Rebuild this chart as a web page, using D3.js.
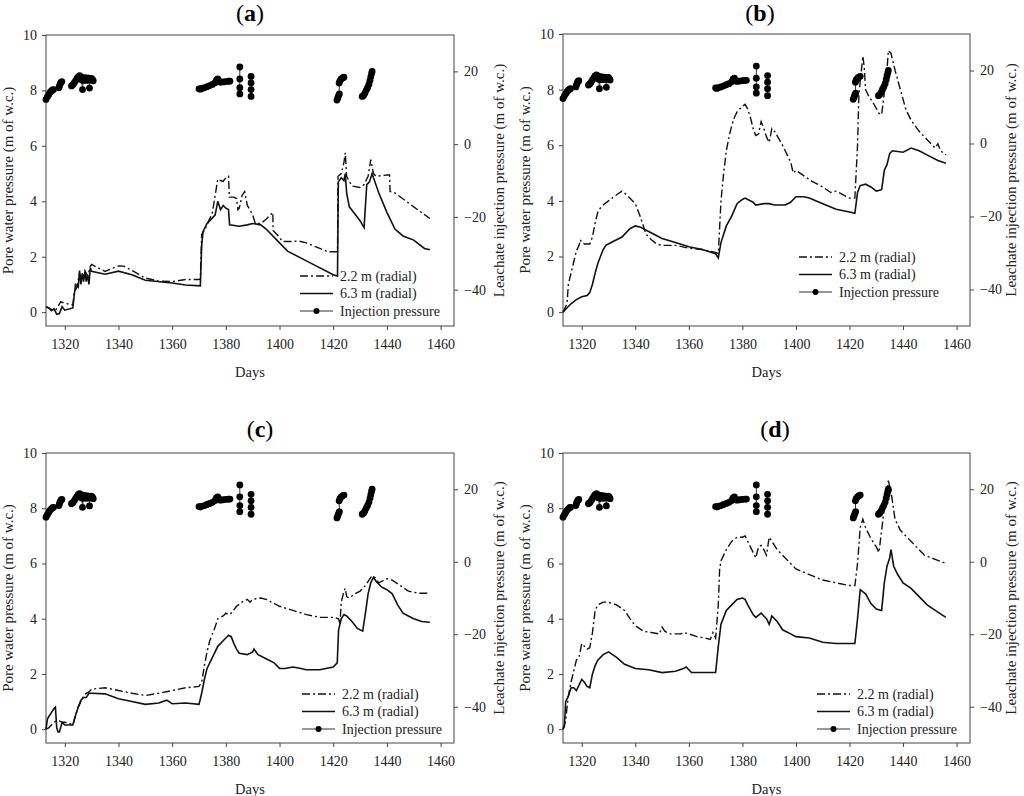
<!DOCTYPE html>
<html>
<head>
<meta charset="utf-8">
<script src="https://cdn.jsdelivr.net/npm/d3@7"></script>
<style>
  body { margin: 0; background: #fff; }
  svg { font-family: "Liberation Serif", "Times New Roman", serif; }
  .tick text { font-family: "Liberation Serif", "Times New Roman", serif; font-size: 14px; fill: #222; }
  .domain { display: none; }
  .tick line { stroke: #444; }
</style>
</head>
<body>
<div id="chart"></div>
<script>
// ---- data (day, value) ----
var dayTicks = [1320, 1340, 1360, 1380, 1400, 1420, 1440, 1460];
var pwpTicks = [0, 2, 4, 6, 8, 10];
var injTicks = [-40, -20, 0, 20];
var seriesNames = ["2.2 m (radial)", "6.3 m (radial)", "Injection pressure"];

// panel (a)
var a22 = [[1313,0.2],[1315,0.1],[1316.5,0.05],[1318.5,0.38],[1320,0.32],[1323,0.26],[1323.5,0.7],[1324.5,0.9],[1325.5,1.4],[1326.5,1.2],[1327.5,1.5],[1328.5,1.3],[1329.5,1.65],[1330,1.72],[1335,1.47],[1340,1.67],[1342,1.66],[1346,1.45],[1350,1.23],[1355,1.12],[1360,1.1],[1365,1.18],[1370.5,1.18],[1371,2.8],[1372,2.95],[1373,3.15],[1375,3.6],[1376,4.2],[1377,4.8],[1378,4.75],[1379,4.72],[1380,4.85],[1381,4.9],[1381.3,4.15],[1383,4.15],[1384,4.1],[1384.5,3.7],[1385,3.75],[1386,4.2],[1387,4.35],[1388,3.85],[1389,3.7],[1390,3.5],[1391,3.2],[1393,3.2],[1395,3.35],[1397.5,3.6],[1397.6,2.95],[1400,2.7],[1401,2.55],[1405,2.55],[1407,2.57],[1410,2.5],[1415,2.3],[1418,2.18],[1421.6,2.18],[1421.8,4.9],[1423,5.0],[1424,5.4],[1424.5,5.75],[1425,4.9],[1427,4.55],[1430,4.5],[1431.5,4.6],[1433,4.9],[1434,5.5],[1435,5.0],[1436,4.9],[1440,4.95],[1441,4.95],[1441.2,4.35],[1443,4.3],[1450,3.8],[1456,3.38]];
var a63 = [[1313,0.2],[1314,0.15],[1315,0.05],[1316,0.12],[1317,-0.08],[1318,-0.05],[1319,0.2],[1320,0.07],[1323,0.15],[1323.5,0.6],[1324,1.0],[1325,0.9],[1325.5,1.5],[1326,1.0],[1326.5,1.4],[1327,1.1],[1327.5,1.45],[1328,1.1],[1328.5,1.35],[1329,1.0],[1329.5,1.6],[1330,1.47],[1335,1.37],[1340,1.48],[1345,1.35],[1350,1.15],[1360,1.05],[1365,0.98],[1370.5,0.95],[1371,2.4],[1371.5,2.9],[1373,3.2],[1375,3.4],[1376,3.5],[1377,4.0],[1378,3.7],[1379,3.85],[1380,3.75],[1381,3.7],[1381.4,3.15],[1385,3.1],[1388,3.15],[1390,3.2],[1393,3.15],[1395,3.0],[1400,2.5],[1403,2.2],[1410,1.85],[1420,1.35],[1421.6,1.3],[1421.9,4.7],[1423,4.85],[1424,4.75],[1424.5,5.0],[1425,4.3],[1426,3.8],[1428,3.55],[1430,3.3],[1431.5,3.05],[1432.5,4.6],[1433.5,4.7],[1434.5,5.0],[1435,4.85],[1437,4.3],[1440,3.6],[1443,3.0],[1446,2.75],[1450,2.6],[1454,2.3],[1456,2.25]];

// panel (b)
var b22 = [[1313,0],[1314.5,0.3],[1315,1.0],[1316,1.4],[1317,1.8],[1318,2.2],[1319,2.4],[1319.5,2.6],[1320,2.5],[1321,2.45],[1323,2.45],[1324,2.7],[1325,3.2],[1326,3.6],[1327,3.75],[1328,3.85],[1330,4.0],[1332,4.15],[1335,4.35],[1337,4.2],[1340,3.9],[1342,3.4],[1344,2.8],[1346,2.6],[1348,2.45],[1350,2.4],[1355,2.4],[1360,2.3],[1365,2.25],[1370,2.15],[1371,2.1],[1372,4.0],[1373,5.0],[1374,5.8],[1375,6.3],[1376,6.7],[1377,7.0],[1378,7.2],[1380,7.4],[1381,7.47],[1382,7.3],[1383,7.0],[1384,6.6],[1385,6.35],[1386,6.4],[1387,6.85],[1388,6.6],[1389,6.3],[1390,6.1],[1391,6.6],[1392,6.5],[1395,6.0],[1397,5.6],[1398,5.4],[1399,5.0],[1400,5.1],[1403,4.9],[1406,4.7],[1410,4.5],[1413,4.3],[1415,4.35],[1418,4.2],[1420,4.1],[1422,4.1],[1423,6.0],[1423.5,7.8],[1424,8.3],[1425,9.2],[1425.5,8.8],[1426,8.0],[1427,7.8],[1429,7.5],[1431,7.15],[1432,7.1],[1433,7.9],[1434,8.7],[1434.5,9.4],[1435.5,9.3],[1437,8.7],[1439,8.0],[1441,7.3],[1443,6.9],[1446,6.5],[1449,6.2],[1452,5.9],[1453,6.05],[1454,5.8],[1456,5.65]];
var b63 = [[1313,0],[1314,0.1],[1316,0.3],[1318,0.45],[1320,0.55],[1322,0.6],[1323,0.7],[1324,1.0],[1325,1.4],[1326,1.75],[1327,2.0],[1328,2.25],[1329,2.4],[1331,2.5],[1335,2.7],[1338,3.0],[1340,3.1],[1342,3.05],[1345,2.9],[1350,2.65],[1355,2.5],[1360,2.35],[1365,2.25],[1370,2.1],[1371,1.95],[1372,2.5],[1373,2.8],[1374,3.1],[1376,3.45],[1378,3.9],[1380,4.05],[1381,4.1],[1382,4.05],[1384,3.95],[1385,3.85],[1388,3.9],[1390,3.9],[1392,3.85],[1396,3.85],[1398,3.95],[1400,4.15],[1403,4.15],[1405,4.1],[1410,3.9],[1415,3.7],[1420,3.6],[1422,3.55],[1423,4.3],[1424,4.55],[1426,4.6],[1428,4.5],[1430,4.35],[1432,4.4],[1433,5.1],[1434,5.3],[1435,5.7],[1436,5.8],[1440,5.75],[1443,5.9],[1446,5.8],[1450,5.6],[1453,5.45],[1456,5.35]];

// panel (c)
var c22 = [[1313,0],[1314,0.05],[1315,0.15],[1316,0.25],[1317,0.3],[1318,0.3],[1319,0.25],[1320,0.25],[1322,0.2],[1323,0.15],[1324,0.5],[1325,0.8],[1326,1.0],[1327,1.2],[1328,1.3],[1329,1.35],[1330,1.45],[1335,1.5],[1340,1.4],[1345,1.3],[1350,1.22],[1355,1.3],[1360,1.4],[1365,1.5],[1370,1.55],[1371,1.7],[1372,2.3],[1373,2.8],[1374,3.2],[1376,3.7],[1377,4.0],[1379,4.1],[1380,4.2],[1381,4.15],[1382,4.2],[1384,4.45],[1386,4.6],[1388,4.7],[1389,4.6],[1390,4.7],[1393,4.75],[1395,4.7],[1400,4.45],[1405,4.3],[1410,4.15],[1415,4.05],[1420,4.05],[1422,4.0],[1422.5,3.8],[1423,4.6],[1424,5.0],[1424.5,5.1],[1425,4.8],[1426,4.75],[1428,4.9],[1430,5.0],[1432,5.2],[1434,5.5],[1435,5.55],[1437,5.3],[1440,5.45],[1442,5.4],[1445,5.2],[1448,5.0],[1452,4.92],[1456,4.92]];
var c63 = [[1313,0],[1313.5,0.35],[1314,0.45],[1315,0.6],[1316,0.75],[1316.5,0.8],[1317,0.05],[1317.5,-0.1],[1318,-0.1],[1319,0.25],[1320,0.15],[1322,0.15],[1323,0.15],[1324,0.5],[1325,0.8],[1326,1.05],[1327,1.15],[1328,1.15],[1329,1.3],[1330,1.3],[1335,1.28],[1340,1.1],[1345,1.0],[1350,0.9],[1355,0.95],[1358,1.05],[1360,0.92],[1365,0.95],[1370,0.9],[1371,1.3],[1372,1.8],[1373,2.2],[1375,2.6],[1377,3.0],[1379,3.2],[1381,3.4],[1382,3.35],[1383,3.1],[1384,2.9],[1385,2.75],[1388,2.7],[1390,2.8],[1390.5,2.9],[1392,2.7],[1395,2.55],[1398,2.4],[1400,2.2],[1402,2.2],[1405,2.25],[1408,2.2],[1410,2.15],[1415,2.15],[1420,2.25],[1421.5,2.4],[1422,3.6],[1423,4.0],[1424,4.15],[1425,4.1],[1427,3.9],[1429,3.65],[1431,3.55],[1432,4.2],[1433,4.9],[1434,5.3],[1435,5.5],[1436,5.35],[1438,5.15],[1440,5.05],[1442,4.9],[1444,4.5],[1446,4.2],[1448,4.1],[1450,4.0],[1453,3.9],[1456,3.87]];

// panel (d)
var d22 = [[1313,0],[1314,0.3],[1314.5,0.8],[1315,1.2],[1316,1.7],[1317,2.1],[1318,2.5],[1319,2.6],[1320,3.1],[1321,3.0],[1322,2.9],[1323,2.95],[1324,3.5],[1325,4.3],[1326,4.5],[1328,4.6],[1330,4.6],[1333,4.5],[1336,4.3],[1338,4.0],[1340,3.75],[1343,3.55],[1346,3.5],[1349,3.45],[1350,3.7],[1351,3.55],[1353,3.45],[1357,3.45],[1358,3.5],[1360,3.45],[1363,3.35],[1366,3.3],[1368,3.25],[1369,3.5],[1370,3.3],[1371,4.5],[1371.5,5.8],[1372,6.1],[1374,6.5],[1376,6.8],[1378,6.95],[1380,6.95],[1381,7.0],[1382,6.8],[1384,6.4],[1385,6.2],[1386,6.6],[1387,6.65],[1388,6.5],[1389,6.3],[1390,6.95],[1391,6.8],[1393,6.5],[1395,6.3],[1397,6.1],[1400,5.8],[1405,5.6],[1410,5.4],[1415,5.3],[1420,5.2],[1422,5.2],[1423,6.0],[1424,7.3],[1425,7.6],[1426,7.3],[1428,6.9],[1430,6.6],[1431,6.4],[1432,7.2],[1433,8.0],[1434,8.5],[1434.5,9.0],[1435.5,8.6],[1437,7.6],[1439,7.2],[1442,6.9],[1445,6.6],[1448,6.3],[1452,6.15],[1456,6.0]];
var d63 = [[1313,0],[1313.5,0.1],[1314,1.0],[1315,1.2],[1316,1.5],[1317,1.5],[1318,1.4],[1319,1.6],[1320,1.8],[1321,1.7],[1322,1.55],[1323,1.5],[1324,2.0],[1325,2.3],[1326,2.5],[1328,2.7],[1330,2.8],[1333,2.6],[1336,2.35],[1340,2.2],[1345,2.15],[1350,2.05],[1355,2.1],[1358,2.2],[1359,2.25],[1361,2.05],[1365,2.05],[1370,2.05],[1371,3.0],[1372,3.8],[1374,4.3],[1376,4.5],[1378,4.7],[1380,4.75],[1381,4.7],[1382,4.5],[1384,4.15],[1385,4.05],[1387,4.2],[1389,4.0],[1390,3.8],[1391,4.1],[1393,3.9],[1395,3.6],[1398,3.45],[1400,3.35],[1405,3.3],[1410,3.15],[1415,3.1],[1420,3.1],[1422,3.1],[1423,4.0],[1424,5.05],[1426,4.9],[1428,4.55],[1430,4.35],[1432,4.3],[1433,5.3],[1434,5.9],[1435,6.2],[1435.5,6.5],[1436.5,5.9],[1438,5.6],[1440,5.3],[1443,5.1],[1446,4.8],[1449,4.5],[1452,4.3],[1456,4.05]];

// injection pressure (right axis), same in every panel; one array per run
var inj1 = [[1313.0,12.3],[1313.5,13.0],[1314.0,13.6],[1314.5,14.2],[1315.0,14.6],[1315.5,14.9],[1315.8,15.0]];
var inj2 = [[1317.8,15.5],[1318.0,16.0],[1318.3,16.6],[1318.6,17.0],[1318.9,17.2]];
var inj3 = [[1322.5,16.0],[1323,16.3],[1323.5,16.8],[1324,17.4],[1324.5,18.0],[1325,18.5],[1325.5,18.8],[1326,18.5],[1326.3,17.6],[1326.6,15.0],[1326.9,17.5],[1327.3,18.3],[1327.7,18.0],[1328.1,17.5],[1328.5,18.2],[1328.9,17.8],[1329.2,15.4],[1329.5,17.6],[1329.9,18.1],[1330.3,17.8],[1330.6,17.4]];
var inj4 = [[1370,15.2],[1370.5,15.1],[1371,15.3],[1372,15.5],[1373,15.8],[1374,16.1],[1375,16.4],[1376,16.9],[1376.5,17.6],[1377,17.9],[1377.5,17.3],[1378,17.0],[1379,17.1],[1380,17.2],[1381,17.3],[1381.5,17.3]];
var inj5 = [[1385.2,21.2],[1385.2,17.9],[1385.2,15.5],[1385.2,13.8]];
var inj6 = [[1389.4,18.6],[1389.4,16.8],[1389.4,15.0],[1389.4,13.1]];
var inj7 = [[1421.4,12.1],[1421.7,12.7],[1422.0,13.3],[1422.3,13.8],[1422.2,16.8],[1422.5,17.4],[1423,17.9],[1423.5,18.2],[1424,18.4]];
var inj8 = [[1430.8,13.1],[1431.3,13.4],[1431.8,14.0],[1432.3,14.8],[1432.8,15.5],[1433.3,16.4],[1433.7,17.5],[1434.0,18.5],[1434.3,19.4],[1434.5,20.0]];
var injRuns = [inj1, inj2, inj3, inj4, inj5, inj6, inj7, inj8];

// ---- layout ----
var panels = [
  {label: "a", s22: a22, s63: a63, x: 46,  y: 35,  w: 408, h: 291, tx: 250, ty: 21,  lx: 300, ly: 276},
  {label: "b", s22: b22, s63: b63, x: 563, y: 34,  w: 407, h: 292, tx: 760, ty: 21,  lx: 799, ly: 257},
  {label: "c", s22: c22, s63: c63, x: 46,  y: 453, w: 408, h: 290, tx: 260, ty: 437, lx: 302, ly: 694},
  {label: "d", s22: d22, s63: d63, x: 563, y: 453, w: 407, h: 290, tx: 775, ty: 437, lx: 817, ly: 694}
];

var svg = d3.select("#chart").append("svg")
  .attr("width", 1024)
  .attr("height", 796);

var dashDot = "8,3,2,3";
var fmt = d3.format("d");

panels.forEach(function (p) {
  var g = svg.append("g").attr("transform", "translate(" + p.x + "," + p.y + ")");

  var x = d3.scaleLinear().domain([1313, 1465]).range([0, p.w]);
  var y = d3.scaleLinear().domain([-0.5, 10]).range([p.h, 0]);
  var y2 = d3.scaleLinear().domain([-50, 30]).range([p.h, 0]);

  // axes
  g.append("g")
    .attr("transform", "translate(0," + p.h + ")")
    .call(d3.axisBottom(x).tickValues(dayTicks).tickFormat(fmt).tickSize(4).tickPadding(9).tickSizeOuter(0));
  g.append("g")
    .call(d3.axisLeft(y).tickValues(pwpTicks).tickFormat(fmt).tickSize(4).tickPadding(5).tickSizeOuter(0));
  g.append("g")
    .attr("transform", "translate(" + p.w + ",0)")
    .call(d3.axisRight(y2).tickValues(injTicks).tickFormat(fmt).tickSize(4).tickPadding(6).tickSizeOuter(0));

  // frame
  g.append("rect")
    .attr("width", p.w).attr("height", p.h)
    .attr("fill", "none").attr("stroke", "#444").attr("stroke-width", 1);

  var line = d3.line().x(function (d) { return x(d[0]); }).y(function (d) { return y(d[1]); });
  var line2 = d3.line().x(function (d) { return x(d[0]); }).y(function (d) { return y2(d[1]); });

  g.append("path").datum(p.s22)
    .attr("d", line).attr("fill", "none").attr("stroke", "#111")
    .attr("stroke-width", 1.4).attr("stroke-dasharray", dashDot);
  g.append("path").datum(p.s63)
    .attr("d", line).attr("fill", "none").attr("stroke", "#111")
    .attr("stroke-width", 1.6);

  // injection pressure
  injRuns.forEach(function (run) {
    g.append("path").datum(run)
      .attr("d", line2).attr("fill", "none").attr("stroke", "#333").attr("stroke-width", 1);
    g.selectAll(null).data(run).enter().append("circle")
      .attr("cx", function (d) { return x(d[0]); })
      .attr("cy", function (d) { return y2(d[1]); })
      .attr("r", 3.4).attr("fill", "#000");
  });

  // axis titles
  svg.append("text")
    .attr("x", p.x + p.w / 2).attr("y", p.y + p.h + 51)
    .attr("text-anchor", "middle").attr("font-size", 14.5).attr("fill", "#222")
    .text("Days");
  svg.append("text")
    .attr("transform", "translate(" + (p.x - 33) + "," + (p.y + p.h / 2) + ") rotate(-90)")
    .attr("text-anchor", "middle").attr("font-size", 15).attr("fill", "#222")
    .text("Pore water pressure (m of w.c.)");
  svg.append("text")
    .attr("transform", "translate(" + Math.min(p.x + p.w + 50, 1016) + "," + (p.y + p.h / 2) + ") rotate(-90)")
    .attr("text-anchor", "middle").attr("font-size", 15).attr("fill", "#222")
    .text("Leachate injection pressure (m of w.c.)");

  // panel title
  var t = svg.append("text")
    .attr("x", p.tx).attr("y", p.ty)
    .attr("text-anchor", "middle").attr("font-size", 24).attr("fill", "#000");
  t.append("tspan").text("(");
  t.append("tspan").attr("font-weight", "bold").text(p.label);
  t.append("tspan").text(")");

  // legend
  var lg = svg.append("g").attr("transform", "translate(" + p.lx + "," + p.ly + ")");
  seriesNames.forEach(function (name, i) {
    var row = lg.append("g").attr("transform", "translate(0," + (i * 17.5) + ")");
    var ln = row.append("line").attr("x1", 0).attr("x2", 33).attr("y1", 0).attr("y2", 0)
      .attr("stroke", "#111");
    if (i === 0) ln.attr("stroke-width", 1.4).attr("stroke-dasharray", dashDot);
    if (i === 1) ln.attr("stroke-width", 1.6);
    if (i === 2) {
      ln.attr("stroke-width", 1).attr("stroke", "#333");
      row.append("circle").attr("cx", 16.5).attr("cy", 0).attr("r", 3).attr("fill", "#000");
    }
    row.append("text").attr("x", 40).attr("y", 0).attr("dy", "0.35em")
      .attr("font-size", 14).attr("fill", "#222").text(name);
  });
});
</script>
</body>
</html>
